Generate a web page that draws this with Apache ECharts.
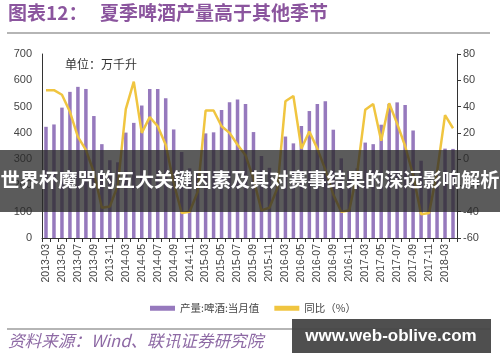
<!DOCTYPE html>
<html><head><meta charset="utf-8">
<script src="https://cdn.jsdelivr.net/npm/echarts@6/dist/echarts.min.js"></script>
<style>html,body{margin:0;padding:0;background:#fff}#c{width:500px;height:362px}</style>
</head><body><div id="c"></div>
<script>
const categories = [
 '2013-03','2013-04','2013-05','2013-06','2013-07','2013-08','2013-09','2013-10','2013-11','2013-12',
 '2014-03','2014-04','2014-05','2014-06','2014-07','2014-08','2014-09','2014-10','2014-11','2014-12',
 '2015-03','2015-04','2015-05','2015-06','2015-07','2015-08','2015-09','2015-10','2015-11','2015-12',
 '2016-03','2016-04','2016-05','2016-06','2016-07','2016-08','2016-09','2016-10','2016-11','2016-12',
 '2017-03','2017-04','2017-05','2017-06','2017-07','2017-08','2017-09','2017-10','2017-11','2017-12',
 '2018-03','2018-04'];
const production = [
 423,432,496,556,575,567,464,357,296,288,
 401,438,504,567,567,532,413,327,265,245,
 398,402,487,516,527,510,403,312,267,233,
 386,360,426,483,510,520,412,303,255,265,
 363,357,431,510,516,506,409,294,255,250,
 340,339];
const yoy = [
 52.5,52.5,49,36,17,7,-10,-37,-36,-20,
 38,59,20,32,25,11,-18,-41,-40,-25,
 37,37,25,20,11,3,-15,-39,-37,-22,
 44,48,8,21,8,-8,-27,-40,-39,-10,
 37.5,42,14,42.5,27,10,-12,-42,-41,-10,
 33.5,23.5];
const leftTicks = [0,100,200,300,400,500,600,700];
const rightTicks = [-60,-40,-20,0,20,40,60,80];
const seriesNames = ['产量:啤酒:当月值','同比（%）'];

const chart = echarts.init(document.getElementById('c'), null, {renderer:'canvas'});
const axisFont = 'Liberation Sans, Arial, sans-serif';
const cjk = '"Noto Sans CJK SC", sans-serif';
chart.setOption({
  animation:false,
  backgroundColor:'#fff',
  grid:{left:42,right:43,top:54,bottom:124,containLabel:false},
  legend:{
    left:145, top:298, itemWidth:25, itemHeight:5, itemGap:15,
    textStyle:{fontSize:10.5,color:'#444',fontFamily:cjk},
    data:[{name:seriesNames[0],icon:'rect'},{name:seriesNames[1],icon:'rect'}]
  },
  xAxis:{
    type:'category', data:categories,
    axisLine:{lineStyle:{color:'#333',width:1}},
    axisTick:{show:true,interval:0,length:4,lineStyle:{color:'#333'}},
    axisLabel:{interval:1,rotate:90,fontSize:10.5,color:'#444',fontFamily:axisFont,margin:6}
  },
  yAxis:[
    {type:'value',min:leftTicks[0],max:leftTicks[leftTicks.length-1],interval:100,
     axisLine:{show:true,lineStyle:{color:'#333'}},axisTick:{show:false},
     splitLine:{show:false},
     axisLabel:{fontSize:11,color:'#444',fontFamily:axisFont,margin:10}},
    {type:'value',min:rightTicks[0],max:rightTicks[rightTicks.length-1],interval:20,position:'right',
     axisLine:{show:true,lineStyle:{color:'#333'}},axisTick:{show:true,length:4,lineStyle:{color:'#333'}},
     splitLine:{show:false},
     axisLabel:{fontSize:11,color:'#444',fontFamily:axisFont,margin:6}}
  ],
  series:[
    {name:seriesNames[0],type:'bar',data:production,yAxisIndex:0,barWidth:3.5,
     itemStyle:{color:'#9679bd'}},
    {name:seriesNames[1],type:'line',data:yoy,yAxisIndex:1,symbol:'none',
     lineStyle:{color:'#f0c540',width:2.5},itemStyle:{color:'#f0c540'}}
  ],
  graphic:[
    {type:'text',left:8,top:3,z:50,style:{text:'图表12：',fill:'#8b559e',font:'bold 19px '+cjk}},
    {type:'text',left:100,top:3,z:50,style:{text:'夏季啤酒产量高于其他季节',fill:'#8b559e',font:'bold 19px '+cjk}},
    {type:'rect',z:50,shape:{x:7,y:32,width:483,height:2},style:{fill:'#b5b5b5'}},
    {type:'text',left:65,top:58,z:50,style:{text:'单位：万千升',fill:'#333',font:'12px '+cjk}},
    {type:'rect',z:50,shape:{x:7,y:328,width:483,height:2},style:{fill:'#b5b5b5'}},
    {type:'text',left:8,top:332,z:50,style:{text:'资料来源：Wind、联讯证券研究院',fill:'#8e6aa5',font:'italic 16.6px '+cjk}},
    {type:'rect',z:100,shape:{x:0,y:150,width:500,height:62},style:{fill:'rgba(40,40,40,0.76)'}},
    {type:'text',x:250,y:180,z:101,style:{text:'世界杯魔咒的五大关键因素及其对赛事结果的深远影响解析',fill:'#fff',
      font:'bold 19.2px '+cjk,align:'center',verticalAlign:'middle'}},
    {type:'rect',z:100,shape:{x:292,y:319,width:199,height:34},style:{fill:'rgba(70,70,70,0.95)'}},
    {type:'text',x:391,y:336,z:101,style:{text:'www.web-oblive.com',fill:'#fff',
      font:'bold 17px Liberation Sans, Arial, sans-serif',align:'center',verticalAlign:'middle'}}
  ]
});
</script></body></html>
